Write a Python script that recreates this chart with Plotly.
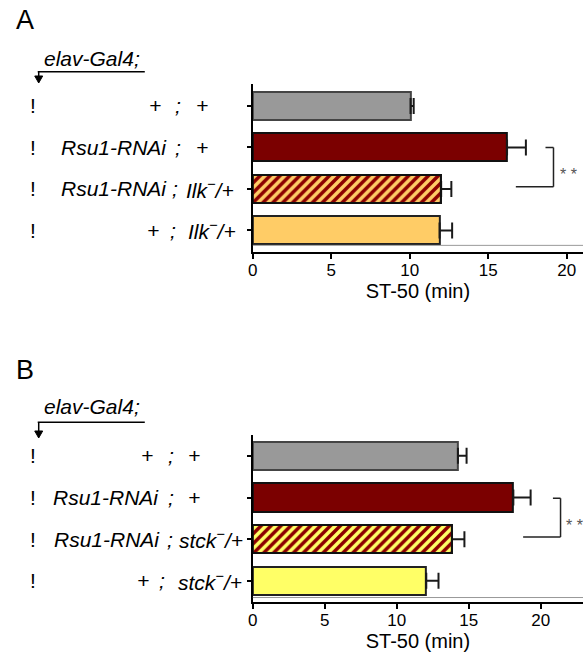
import plotly.graph_objects as go

W, H = 583, 657

# ---------------- data ----------------
chr2_A = ["+", "Rsu1-RNAi", "Rsu1-RNAi", "+"]
chr3_A = ["+", "+", "Ilk<sup>−</sup>/+", "Ilk<sup>−</sup>/+"]
st50_A = [10.05, 16.2, 12.0, 11.9]
err_A = [0.2, 1.2, 0.65, 0.8]

chr2_B = ["+", "Rsu1-RNAi", "Rsu1-RNAi", "+"]
chr3_B = ["+", "+", "stck<sup>−</sup>/+", "stck<sup>−</sup>/+"]
st50_B = [14.25, 18.1, 13.8, 12.05]
err_B = [0.6, 1.2, 0.9, 0.85]

hatched = [False, False, True, False]

xticks = [0, 5, 10, 15, 20]
axis_title = "ST-50 (min)"
driver = "elav-Gal4;"
sig_label = "* *"

# ---------------- styles ----------------
FONT = "Liberation Sans, Arial, sans-serif"
fills_A = ["#999999", "#7b0000", "#ffcc66", "#ffcc66"]
fills_B = ["#999999", "#7b0000", "#ffff66", "#ffff66"]
lines_col = ["#444444", "#111111", "#111111", "#222222"]
BAR_W = 0.675


def px(x):
    return x / W


def py(y):
    return 1 - y / H


def add_bars(fig, vals, errs, fills, xa, ya):
    n = len(vals)
    fig.add_trace(go.Bar(
        x=vals, y=list(range(n)), orientation="h", width=BAR_W,
        xaxis=xa, yaxis=ya,
        marker=dict(color=fills, line=dict(color=lines_col, width=2)),
        error_x=dict(type="data", symmetric=False, array=errs,
                     arrayminus=[0] * n, color="#1a1a1a",
                     thickness=2, width=8),
        showlegend=False, hoverinfo="skip",
    ))
    idx = [i for i in range(n) if hatched[i]]
    for i in idx:
        fig.add_trace(go.Bar(
            x=[vals[i]], y=[i], orientation="h", width=BAR_W,
            xaxis=xa, yaxis=ya,
            marker=dict(color=fills[i], line=dict(color=lines_col[i], width=2),
                        pattern=dict(shape="/", fgcolor="#8b0000", bgcolor=fills[i],
                                     size=7, solidity=0.5, fillmode="replace",
                                     fgopacity=1)),
            showlegend=False, hoverinfo="skip",
        ))


fig = go.Figure()
add_bars(fig, st50_A, err_A, fills_A, "x", "y")
add_bars(fig, st50_B, err_B, fills_B, "x2", "y2")

common_x = dict(showgrid=False, zeroline=False, showline=True,
                linecolor="black", linewidth=2, ticks="outside",
                ticklen=5, tickwidth=2, tickcolor="black",
                ticklabelstandoff=-3,
                tickvals=xticks, tickfont=dict(family=FONT, size=17, color="black"),
                title=dict(text=axis_title, font=dict(family=FONT, size=20, color="black"),
                           standoff=0))
common_y = dict(showgrid=False, zeroline=False, showline=True,
                linecolor="black", linewidth=2, ticks="outside",
                ticklen=4, tickwidth=2, tickcolor="black",
                tickvals=list(range(4)), showticklabels=False)

fig.update_layout(
    width=W, height=H, margin=dict(l=0, r=0, t=0, b=0),
    paper_bgcolor="white", plot_bgcolor="white",
    barmode="overlay", bargap=0,
    xaxis=dict(common_x, domain=[px(250), 1], range=[0, 21.04], anchor="y"),
    yaxis=dict(common_y, domain=[py(252), py(84)], range=[3.52, -0.53], anchor="x"),
    xaxis2=dict(common_x, domain=[px(250), 1], range=[0, 22.94], anchor="y2"),
    yaxis2=dict(common_y, domain=[py(601.7), py(435)], range=[3.5, -0.5], anchor="x2"),
)

shapes = []
ann = []


def bracket(xr, yr, xv, xt, xb, y0, y1):
    c = dict(color="#222222", width=1.5)
    shapes.append(dict(type="line", xref=xr, yref=yr, x0=xv, x1=xv, y0=y0, y1=y1, line=c))
    shapes.append(dict(type="line", xref=xr, yref=yr, x0=xt, x1=xv, y0=y0, y1=y0, line=c))
    shapes.append(dict(type="line", xref=xr, yref=yr, x0=xb, x1=xv, y0=y1, y1=y1, line=c))


bracket("x", "y", 19.16, 18.65, 16.76, 1.0, 1.95)
bracket("x2", "y2", 21.38, 20.85, 18.78, 1.02, 1.95)
ann.append(dict(xref="x", yref="y", x=19.45, y=1.66, text=sig_label, showarrow=False,
                xanchor="left", yanchor="middle",
                font=dict(family=FONT, size=16, color="#555555")))
ann.append(dict(xref="x2", yref="y2", x=21.65, y=1.68, text=sig_label, showarrow=False,
                xanchor="left", yanchor="middle",
                font=dict(family=FONT, size=16, color="#555555")))

# thin gray baseline line just above the x axis
shapes.append(dict(type="line", xref="x domain", yref="y", x0=0, x1=1, y0=3.36, y1=3.36,
                   line=dict(color="#999999", width=1)))
shapes.append(dict(type="line", xref="x2 domain", yref="y2", x0=0, x1=1, y0=3.40, y1=3.40,
                   line=dict(color="#999999", width=1)))

LBL = dict(family=FONT, size=21, color="black")

# label layout per row: (left part right edge, semicolon center, right part left edge)
lay_A = [(158, 175, 192), (164, 175, 192), (164, 171, 182), (156, 169, 184)]
lay_B = [(150, 167, 184), (156, 167, 184), (157, 166, 175), (146, 158, 173)]


def labels(c2, c3, lay, yr):
    for i in range(len(c2)):
        l, s, r = lay[i]
        ann.append(dict(xref="paper", yref=yr, x=px(l), y=i, text="<i>%s</i>" % c2[i],
                        showarrow=False, xanchor="right", yanchor="middle", font=LBL,
                        borderpad=0))
        ann.append(dict(xref="paper", yref=yr, x=px(s), y=i, text="<i>;</i>",
                        showarrow=False, xanchor="center", yanchor="middle", font=LBL,
                        borderpad=0))
        ann.append(dict(xref="paper", yref=yr, x=px(r), y=i, text="<i>%s</i>" % c3[i],
                        showarrow=False, xanchor="left", yanchor="middle", font=LBL,
                        borderpad=0))
        ann.append(dict(xref="paper", yref=yr, x=px(28), y=i, text="!",
                        showarrow=False, xanchor="center", yanchor="middle", font=LBL))


labels(chr2_A, chr3_A, lay_A, "y")
labels(chr2_B, chr3_B, lay_B, "y2")


def header(letter, ly, ey, ay, ay_end):
    ann.append(dict(xref="paper", yref="paper", x=px(20), y=py(ly), text=letter,
                    showarrow=False, xanchor="center", yanchor="middle",
                    font=dict(family=FONT, size=27, color="black")))
    ann.append(dict(xref="paper", yref="paper", x=px(88), y=py(ey), text="<i>%s</i>" % driver,
                    showarrow=False, xanchor="center", yanchor="middle", font=LBL))
    ln = dict(color="black", width=1.5)
    shapes.append(dict(type="line", xref="paper", yref="paper", x0=px(33), x1=px(141),
                       y0=py(ay), y1=py(ay), line=ln))
    shapes.append(dict(type="line", xref="paper", yref="paper", x0=px(34), x1=px(34),
                       y0=py(ay), y1=py(ay_end - 5), line=ln))
    path = "M %f,%f L %f,%f L %f,%f Z" % (px(30), py(ay_end - 6), px(38), py(ay_end - 6),
                                          px(34), py(ay_end + 1))
    shapes.append(dict(type="path", xref="paper", yref="paper", path=path,
                       fillcolor="black", line=dict(color="black", width=1)))


header("A", 20, 58, 71.7, 82)
header("B", 370, 406.7, 422.3, 437)

fig.update_layout(shapes=shapes, annotations=ann)
fig.write_html("out.html")
